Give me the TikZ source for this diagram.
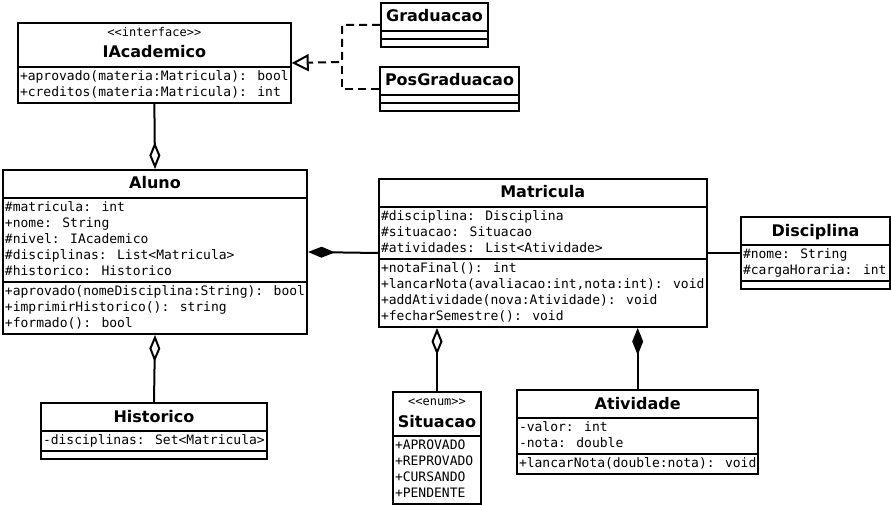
\documentclass[tikz,border=0pt]{standalone}
\usepackage{fontspec}
\newfontfamily\monofont{DejaVu Sans Mono}[Ligatures=TeXOff]
\newfontfamily\namefont{DejaVu Sans}
\usetikzlibrary{shapes.multipart,arrows.meta,positioning}
\newcommand{\membfont}{\fontsize{13}{16}\monofont}
\newcommand{\cname}[1]{{\fontsize{16}{24}\namefont\bfseries\rule[-7pt]{0pt}{24pt}#1}}
\newcommand{\stereo}[1]{{\fontsize{12}{16}\monofont #1}}
\newcommand{\noline}{\rule{0pt}{4pt}}
\tikzstyle{umlclass} = [draw,line width=2pt,rectangle split,rectangle split parts=3,rectangle split part align={center,left,left},align=left,inner xsep=2pt,inner ysep=1pt,anchor=north west,font=\membfont]
\tikzstyle{assoc} = [line width=2pt]
\tikzstyle{aggr} = [assoc,{Diamond[open,length=27pt,width=11pt]}-]
\tikzstyle{comp} = [assoc,{Diamond[length=27pt,width=11pt]}-]
\tikzstyle{impl} = [assoc,dash pattern=on 8pt off 5pt]
\tikzstyle{realize} = [impl,-{Triangle[open,length=17pt,width=17pt]}]

\begin{document}
\begin{tikzpicture}[x=1pt,y=-1pt]
  \useasboundingbox (0,0) rectangle (891,505);
  % interface and its implementations
  \node[umlclass,rectangle split parts=2,minimum width=272pt] (iacad) at (17,22)
    {\begin{tabular}{@{}c@{}}\stereo{<<interface>>}\\\cname{IAcademico}\end{tabular}
     \nodepart{second}\strut+aprovado(materia:Matricula): bool\\
     \strut+creditos(materia:Matricula): int};
  \node[umlclass,minimum width=107pt] (graduacao) at (380,2)
    {\cname{Graduacao}\nodepart{second}\noline\nodepart{third}\noline};
  \node[umlclass,minimum width=139pt] (posgrad) at (379,66)
    {\cname{PosGraduacao}\nodepart{second}\noline\nodepart{third}\noline};
  % classes
  \node[umlclass,minimum width=303pt] (aluno) at (2,169)
    {\cname{Aluno}
     \nodepart{second}\strut\#matricula: int\\
     \strut+nome: String\\
     \strut\#nivel: IAcademico\\
     \strut\#disciplinas: List<Matricula>\\
     \strut\#historico: Historico
     \nodepart{third}\strut+aprovado(nomeDisciplina:String): bool\\
     \strut+imprimirHistorico(): string\\
     \strut+formado(): bool};
  \node[umlclass,minimum width=226pt] (historico) at (40,402)
    {\cname{Historico}
     \nodepart{second}\strut-disciplinas: Set<Matricula>
     \nodepart{third}\noline};
  \node[umlclass,minimum width=326pt] (matricula) at (378,178)
    {\cname{Matricula}
     \nodepart{second}\strut\#disciplina: Disciplina\\
     \strut\#situacao: Situacao\\
     \strut\#atividades: List<Atividade>
     \nodepart{third}\strut+notaFinal(): int\\
     \strut+lancarNota(avaliacao:int,nota:int): void\\
     \strut+addAtividade(nova:Atividade): void\\
     \strut+fecharSemestre(): void};
  \node[umlclass,minimum width=149pt] (disciplina) at (740,216)
    {\cname{Disciplina}
     \nodepart{second}\strut\#nome: String\\
     \strut\#cargaHoraria: int
     \nodepart{third}\noline};
  \node[umlclass,rectangle split parts=2,minimum width=88pt] (situacao) at (392,391)
    {\begin{tabular}{@{}c@{}}\stereo{<<enum>>}\\\cname{Situacao}\end{tabular}
     \nodepart{second}\strut+APROVADO\\
     \strut+REPROVADO\\
     \strut+CURSANDO\\
     \strut+PENDENTE};
  \node[umlclass,minimum width=241pt] (atividade) at (516,389)
    {\cname{Atividade}
     \nodepart{second}\strut-valor: int\\
     \strut-nota: double
     \nodepart{third}\strut+lancarNota(double:nota): void};
  % relations
  \coordinate (junc) at (342,62);
  \draw[realize] (graduacao.west) -| (junc) -- (iacad.east);
  \draw[impl] (posgrad.west) -| (junc);
  \draw[aggr] (aluno.north) -- (iacad.south);
  \draw[aggr] (aluno.south) -- (historico.north);
  \draw[comp] (aluno.east) -- (matricula.west);
  \draw[assoc] (matricula.east) -- (disciplina.west);
  \draw[aggr] (matricula.south -| situacao.north) -- (situacao.north);
  \draw[comp] (matricula.south -| atividade.north) -- (atividade.north);
\end{tikzpicture}
\end{document}
